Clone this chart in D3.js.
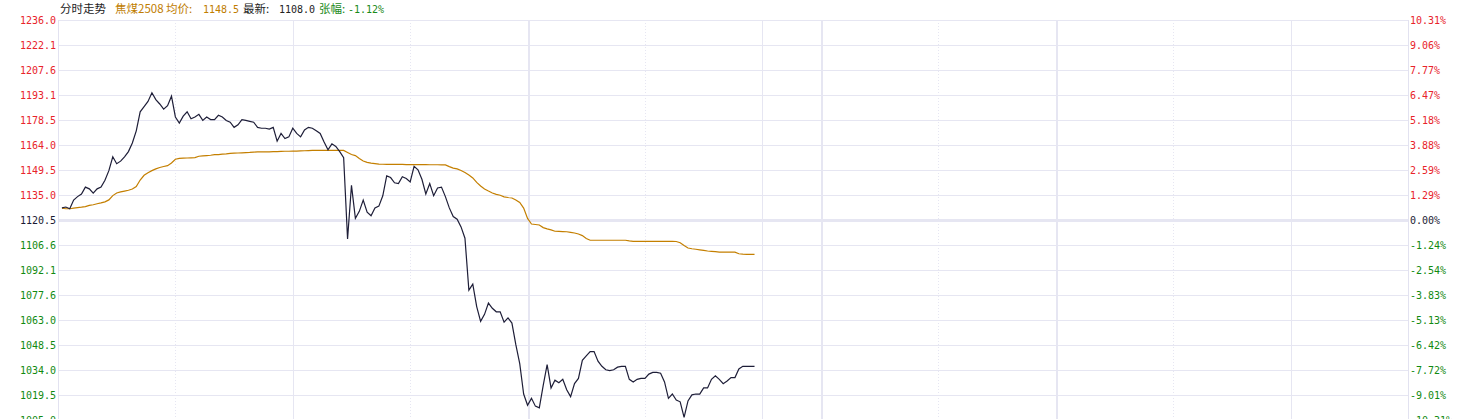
<!DOCTYPE html>
<html><head><meta charset="utf-8">
<script src="https://cdn.jsdelivr.net/npm/d3@7"></script>
<style>body{margin:0;background:#fff;}svg{display:block;}</style>
</head><body><svg id="c" width="1470" height="419"></svg>
<script>
const leftLabels = ["1236.0","1222.1","1207.6","1193.1","1178.5","1164.0","1149.5","1135.0","1120.5","1106.6","1092.1","1077.6","1063.0","1048.5","1034.0","1019.5","1005.0"];
const rightLabels = ["10.31%","9.06%","7.77%","6.47%","5.18%","3.88%","2.59%","1.29%","0.00%","-1.24%","-2.54%","-3.83%","-5.13%","-6.42%","-7.72%","-9.01%","-10.31%"];
const price = [
1127.5,1128.0,1127.0,1132.0,1134.0,1135.5,1139.5,1138.5,1136.0,1138.5,
1139.5,1143.5,1149.0,1157.0,1153.0,1154.5,1157.0,1160.0,1165.0,1172.0,
1183.0,1186.0,1189.0,1194.0,1190.0,1187.5,1184.5,1186.5,1192.0,1180.0,
1176.5,1180.5,1183.0,1179.0,1180.0,1181.5,1178.0,1180.0,1178.5,1178.5,
1181.0,1180.0,1178.0,1177.0,1174.0,1175.5,1178.5,1178.0,1177.5,1177.0,
1174.0,1173.5,1173.5,1173.0,1174.0,1166.0,1170.5,1167.5,1168.5,1173.5,
1170.5,1168.5,1172.5,1174.0,1173.5,1172.0,1170.5,1165.5,1161.0,1164.5,
1163.0,1160.0,1156.5,1109.5,1140.5,1121.5,1125.5,1132.0,1125.0,1123.0,
1127.5,1128.5,1134.5,1146.0,1145.0,1142.0,1141.5,1145.5,1144.5,1142.5,
1151.5,1149.5,1144.0,1135.5,1141.5,1134.5,1139.0,1139.5,1134.0,1127.5,
1122.5,1121.0,1116.5,1110.0,1080.0,1083.5,1070.5,1062.0,1066.0,1072.5,
1069.5,1067.5,1067.5,1061.5,1064.0,1061.0,1048.5,1037.5,1020.0,1013.5,
1017.5,1013.0,1012.0,1025.0,1037.0,1023.5,1028.0,1026.5,1028.5,1022.5,
1018.5,1026.0,1029.0,1039.5,1042.0,1044.5,1044.5,1039.0,1036.0,1034.0,
1033.5,1034.0,1035.5,1036.0,1036.0,1028.5,1027.0,1028.5,1029.0,1029.0,
1031.5,1032.5,1032.5,1032.0,1027.0,1017.5,1020.0,1016.5,1015.5,1006.5,
1016.0,1019.5,1020.0,1020.0,1023.5,1023.5,1028.5,1030.5,1028.5,1026.0,
1027.5,1029.5,1029.5,1034.5,1036.0,1036.0,1036.0,1036.0];
const avg = [
1127.3,1127.0,1127.0,1127.4,1127.7,1127.9,1128.2,1128.9,1129.3,1129.9,
1130.4,1131.0,1132.1,1134.6,1136.1,1136.7,1137.2,1137.7,1138.4,1139.8,
1143.6,1146.3,1147.8,1149.0,1150.0,1150.8,1151.4,1151.9,1153.4,1155.6,
1156.1,1156.2,1156.3,1156.4,1156.5,1157.3,1157.5,1157.7,1157.9,1158.2,
1158.3,1158.5,1158.7,1159.0,1159.1,1159.2,1159.3,1159.4,1159.5,1159.7,
1159.8,1159.8,1159.9,1159.9,1160.0,1160.0,1160.1,1160.2,1160.2,1160.3,
1160.3,1160.4,1160.5,1160.6,1160.7,1160.7,1160.7,1160.7,1160.7,1160.7,
1160.7,1160.7,1160.7,1159.5,1158.3,1157.7,1156.0,1154.6,1153.8,1153.3,
1153.1,1152.8,1152.7,1152.6,1152.6,1152.6,1152.6,1152.6,1152.5,1152.5,
1152.5,1152.5,1152.5,1152.5,1152.4,1152.4,1152.4,1152.3,1152.3,1151.3,
1150.5,1150.0,1149.1,1147.9,1146.5,1144.8,1142.2,1140.1,1138.4,1137.2,
1136.1,1135.3,1134.8,1133.9,1133.5,1133.2,1132.1,1130.6,1127.4,1121.4,
1118.2,1117.9,1117.6,1116.1,1115.4,1114.8,1114.0,1113.9,1113.8,1113.7,
1113.4,1113.0,1112.4,1111.5,1109.8,1108.8,1108.8,1108.8,1108.8,1108.8,
1108.8,1108.8,1108.8,1108.8,1108.8,1108.4,1108.2,1108.2,1108.2,1108.2,
1108.2,1108.2,1108.2,1108.2,1108.2,1108.2,1108.2,1108.1,1107.4,1105.8,
1104.3,1103.9,1103.6,1103.3,1103.0,1102.6,1102.4,1102.2,1102.0,1102.0,
1101.9,1101.9,1101.9,1101.0,1100.8,1100.7,1100.7,1100.7];
const gridMinutes = [30,60,90,120,150,180,195,225,255,285,315];
const gridKinds = ["dot","solid","dot","thick","dot","solid","thick","dot","thick","dot","solid"];
const header = [
  {t:"分时走势", c:"#222222", x:60, f:"cjk"},
  {t:"焦煤2508", c:"#c07d00", x:115, f:"cjk"},
  {t:"均价:", c:"#c07d00", x:166, f:"cjk"},
  {t:"1148.5", c:"#c07d00", x:203, f:"mono"},
  {t:"最新:", c:"#222222", x:243, f:"cjk"},
  {t:"1108.0", c:"#222222", x:279, f:"mono"},
  {t:"张幅:", c:"#1a8a1a", x:319, f:"cjk"},
  {t:"-1.12%", c:"#1a8a1a", x:348, f:"mono"}
];

const svg = d3.select("#c");
const x = d3.scaleLinear().domain([0,345]).range([58,1408]);
const y = d3.scaleLinear().domain([1005,1236]).range([420,20]);
const step = (1236-1005)/(leftLabels.length-1);
const tickVals = leftLabels.map((d,i)=>1236 - i*step);
const gridColor = "#e6e6f2";
const labelColor = i => i < 8 ? "#e8232a" : (i === 8 ? "#1a1a33" : "#118a11");

// horizontal grid
svg.append("g").selectAll("line").data(tickVals).join("line")
  .attr("x1",58).attr("x2",1408)
  .attr("y1",d=>Math.round(y(d))+0.5).attr("y2",d=>Math.round(y(d))+0.5)
  .attr("stroke",gridColor).attr("stroke-width",(d,i)=>i===8?3:1)
  .attr("shape-rendering","crispEdges");

// vertical grid
svg.append("g").selectAll("line").data(gridMinutes).join("line")
  .attr("x1",d=>Math.round(x(d))+0.5).attr("x2",d=>Math.round(x(d))+0.5)
  .attr("y1",20).attr("y2",419)
  .attr("stroke",gridColor)
  .attr("stroke-width",(d,i)=>gridKinds[i]==="thick"?2:1)
  .attr("stroke-dasharray",(d,i)=>gridKinds[i]==="dot"?"1,2":null)
  .attr("shape-rendering","crispEdges");

// axes lines
svg.append("g").selectAll("line").data([0,345]).join("line")
  .attr("x1",d=>x(d)+0.5).attr("x2",d=>x(d)+0.5)
  .attr("y1",20).attr("y2",419)
  .attr("stroke","#e2e2f0").attr("stroke-width",1)
  .attr("shape-rendering","crispEdges");

// left labels
svg.append("g").selectAll("text").data(leftLabels).join("text")
  .attr("x",56).attr("y",(d,i)=>y(tickVals[i]))
  .attr("dy","0.36em")
  .attr("text-anchor","end")
  .attr("font-family","'DejaVu Sans Mono', monospace").attr("font-size",10)
  .attr("fill",(d,i)=>labelColor(i))
  .text(d=>d);

// right labels
svg.append("g").selectAll("text").data(rightLabels).join("text")
  .attr("x",1410).attr("y",(d,i)=>y(tickVals[i]))
  .attr("dy","0.36em")
  .attr("text-anchor","start")
  .attr("font-family","'DejaVu Sans Mono', monospace").attr("font-size",10)
  .attr("fill",(d,i)=>labelColor(i))
  .text(d=>d);

// lines
const line = d3.line().x((d,i)=>x(i+1)).y(d=>y(d));
svg.append("path").datum(avg).attr("d",line)
  .attr("fill","none").attr("stroke","#c47f00").attr("stroke-width",1.2);
svg.append("path").datum(price).attr("d",line)
  .attr("fill","none").attr("stroke","#1e1e38").attr("stroke-width",1.2);

// header
svg.append("g").selectAll("text").data(header).join("text")
  .attr("x",d=>d.x).attr("y",13)
  .attr("font-family",d=>d.f==="cjk"?"'Noto Sans CJK SC', sans-serif":"'DejaVu Sans Mono', monospace")
  .attr("font-size",d=>d.f==="cjk"?11.5:10)
  .attr("fill",d=>d.c)
  .text(d=>d.t);
</script></body></html>
